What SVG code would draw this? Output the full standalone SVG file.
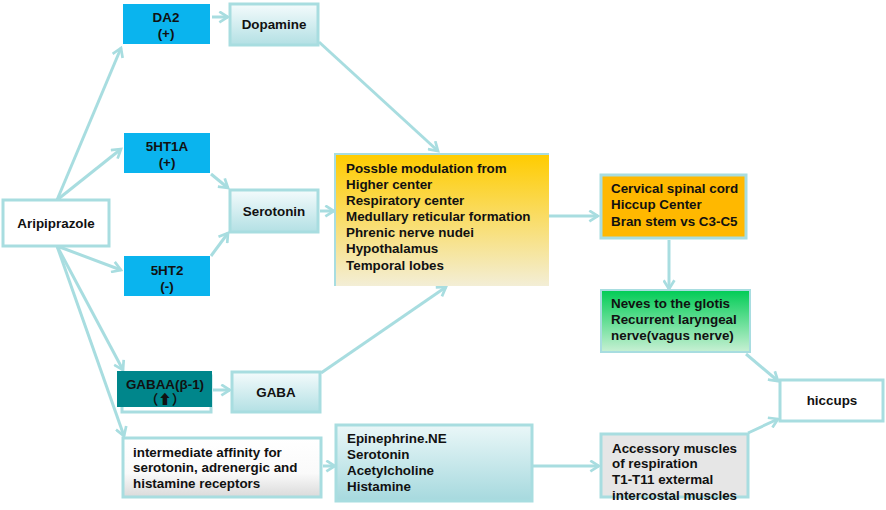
<svg xmlns="http://www.w3.org/2000/svg" width="886" height="510" viewBox="0 0 886 510">
<defs>
<linearGradient id="gCyan" x1="0" y1="0" x2="0" y2="1"><stop offset="0" stop-color="#F4FBFC"/><stop offset="1" stop-color="#B3E0E4"/></linearGradient>
<linearGradient id="gEpi" x1="0" y1="0" x2="0" y2="1"><stop offset="0" stop-color="#EAF7F8"/><stop offset="1" stop-color="#A6D9DE"/></linearGradient>
<linearGradient id="gYel" x1="0" y1="0" x2="0" y2="1"><stop offset="0" stop-color="#FFCC00"/><stop offset="1" stop-color="#F3EED6"/></linearGradient>
<linearGradient id="gGreen" x1="0" y1="0" x2="0" y2="1"><stop offset="0" stop-color="#00CC55"/><stop offset="1" stop-color="#C8F0D4"/></linearGradient>
<linearGradient id="gGray" x1="0" y1="0" x2="0" y2="1"><stop offset="0" stop-color="#FFFFFF"/><stop offset="0.6" stop-color="#FAFAFA"/><stop offset="1" stop-color="#DADADA"/></linearGradient>
<marker id="arr" viewBox="0 0 12 12" refX="10" refY="6" markerWidth="13" markerHeight="13" markerUnits="userSpaceOnUse" orient="auto">
<path d="M2,1 L10,6 L2,11" fill="none" stroke="#A8DDE0" stroke-width="2.5"/>
</marker>
<style>
text{font-family:"Liberation Sans",Arial,sans-serif;font-weight:bold;font-size:13.4px;fill:#111}
.c{text-anchor:middle}
.b{stroke:#A8DDE0;stroke-width:3}
.blue{fill:#0AB4EE}
line,polyline{stroke:#A8DDE0;stroke-width:3;fill:none;marker-end:url(#arr)}
</style>
</defs>
<g id="connectors">
<line x1="57" y1="200" x2="121" y2="48"/>
<line x1="57" y1="200" x2="121" y2="149"/>
<line x1="57" y1="246" x2="121" y2="270"/>
<line x1="57" y1="246" x2="123" y2="370"/>
<line x1="57" y1="246" x2="124" y2="436"/>
<line x1="212" y1="17" x2="228" y2="17"/>
<line x1="211" y1="174" x2="228" y2="188"/>
<line x1="211" y1="256" x2="228" y2="233"/>
<line x1="319" y1="42" x2="438" y2="151"/>
<line x1="320" y1="211" x2="334" y2="211"/>
<line x1="321" y1="373" x2="446" y2="287"/>
<line x1="213" y1="390" x2="230" y2="390"/>
<line x1="323" y1="466" x2="335" y2="466"/>
<line x1="533" y1="216" x2="598" y2="216"/>
<line x1="669" y1="240" x2="669" y2="289"/>
<line x1="746" y1="354" x2="778" y2="381"/>
<line x1="748" y1="433" x2="778" y2="419"/>
<line x1="533" y1="466" x2="599" y2="466"/>
</g>
<g id="aripiprazole"><rect x="3" y="200" width="106" height="46" fill="#fff" class="b"/><text class="c" x="56" y="228">Aripiprazole</text></g>
<g id="da2"><rect x="123" y="4" width="87" height="40" class="blue"/><text class="c" x="166" y="22">DA2</text><text class="c" x="166" y="38">(+)</text></g>
<g id="dopamine"><rect x="230" y="4" width="88" height="41" fill="url(#gCyan)" class="b"/><text class="c" x="274" y="29">Dopamine</text></g>
<g id="ht1a"><rect x="124" y="133" width="86" height="40" class="blue"/><text class="c" x="167" y="151">5HT1A</text><text class="c" x="167" y="167">(+)</text></g>
<g id="serotonin"><rect x="230" y="190" width="88" height="42" fill="url(#gCyan)" class="b"/><text class="c" x="274" y="216">Serotonin</text></g>
<g id="ht2"><rect x="124" y="256" width="86" height="40" class="blue"/><text class="c" x="167" y="275">5HT2</text><text class="c" x="167" y="291">(-)</text></g>
<g id="gabaa"><rect x="122" y="376" width="89" height="36" fill="none" class="b"/><rect x="117" y="371" width="95" height="36" fill="#00868B"/><text class="c" x="165" y="389">GABAA(β-1)</text><text class="c" x="165" y="404" style="font-family:'Liberation Sans','Noto Sans CJK SC',sans-serif">（⬆）</text></g>
<g id="gaba"><rect x="232" y="372" width="88" height="40" fill="url(#gCyan)" class="b"/><text class="c" x="276" y="397">GABA</text></g>
<g id="intermediate"><rect x="123" y="438" width="198" height="59" fill="url(#gGray)" class="b"/><text x="133" y="457">intermediate affinity for</text><text x="133" y="472">serotonin, adrenergic and</text><text x="133" y="488">histamine receptors</text></g>
<g id="modulation"><polyline points="335,286 335,154 549,154" style="marker-end:none;stroke-width:2"/><rect x="336" y="155" width="213" height="131" fill="url(#gYel)"/>
<text x="346" y="173">Possble modulation from</text><text x="346" y="189">Higher center</text><text x="346" y="205">Respiratory center</text><text x="346" y="221">Medullary reticular formation</text><text x="346" y="237">Phrenic nerve nudei</text><text x="346" y="253">Hypothalamus</text><text x="346" y="270">Temporal lobes</text></g>
<g id="epinephrine"><rect x="336" y="425" width="196" height="76" fill="url(#gEpi)" class="b"/><text x="347" y="443">Epinephrine.NE</text><text x="347" y="459">Serotonin</text><text x="347" y="475">Acetylcholine</text><text x="347" y="491">Histamine</text></g>
<g id="cervical"><rect x="601" y="175" width="145" height="63" fill="#FFB800" class="b"/><text x="611" y="193">Cervical spinal cord</text><text x="611" y="209">Hiccup Center</text><text x="611" y="226">Bran stem vs C3-C5</text></g>
<g id="neves"><rect x="601" y="290" width="149" height="62" fill="url(#gGreen)" stroke="#A8DDE0" stroke-width="2"/><text x="611" y="308">Neves to the glotis</text><text x="611" y="324">Recurrent laryngeal</text><text x="611" y="340">nerve(vagus nerve)</text></g>
<g id="hiccups"><rect x="780" y="380" width="103" height="41" fill="#fff" class="b"/><text class="c" x="832" y="405">hiccups</text></g>
<g id="accessory"><rect x="601" y="434" width="147" height="63" fill="#E6E6E6" class="b"/><text x="612" y="453">Accessory muscles</text><text x="612" y="468">of respiration</text><text x="612" y="484">T1-T11 extermal</text><text x="612" y="500">intercostal muscles</text></g>
</svg>
